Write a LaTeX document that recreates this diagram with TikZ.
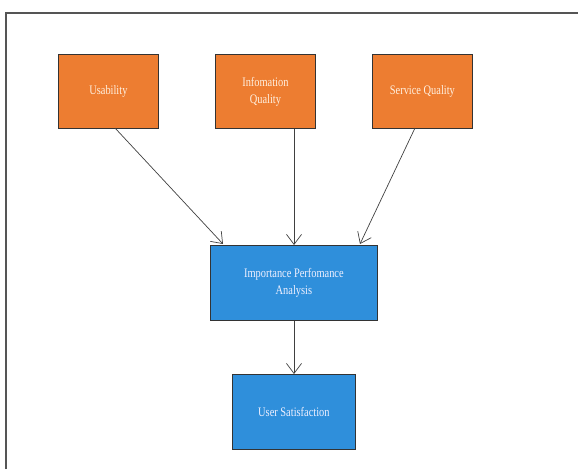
\documentclass[tikz,border=0pt]{standalone}
\usepackage{fontspec}
\setmainfont[FakeStretch=0.8]{Liberation Serif}
\usetikzlibrary{arrows.meta}
\definecolor{orangebox}{HTML}{ED7D31}
\definecolor{bluebox}{HTML}{2F8FDB}
\definecolor{frame}{HTML}{555555}
\begin{document}
\begin{tikzpicture}[x=1pt,y=-1pt,
  obox/.style={draw=black!80, line width=0.8pt, fill=orangebox, minimum width=100pt, minimum height=74pt, anchor=north west, text=orange!12, align=center, font=\fontsize{13}{17}\selectfont, inner sep=0pt},
  bbox/.style={draw=black!80, line width=0.8pt, fill=bluebox, anchor=north west, text=blue!6, align=center, font=\fontsize{13}{17}\selectfont, inner sep=0pt},
  conn/.style={draw=black!75, line width=0.7pt, -{Straight Barb[length=10pt,width=15pt,line width=0.7pt]}}]
\useasboundingbox (0,0) rectangle (578,469);
\draw[frame, line width=1.3pt] (6,469) -- (6,13) -- (578,13);
\node[obox] (u) at (58,54) {Usability};
\node[obox] (i) at (215,54) {Infomation\\Quality};
\node[obox] (s) at (372,54) {Service Quality};
\node[bbox, minimum width=167pt, minimum height=75pt] (ipa) at (210,245) {Importance Perfomance\\Analysis};
\node[bbox, minimum width=123pt, minimum height=75pt] (us) at (232,374) {User Satisfaction};
\coordinate (ua) at (115,128);
\coordinate (sa) at (415,128);
\draw[conn] (ua) -- (223,244);
\draw[conn] (i.south -| 294,0) -- (ipa.north -| 294,0);
\draw[conn] (sa) -- (360,244);
\draw[conn] (ipa.south -| 294,0) -- (us.north -| 294,0);
\end{tikzpicture}
\end{document}
